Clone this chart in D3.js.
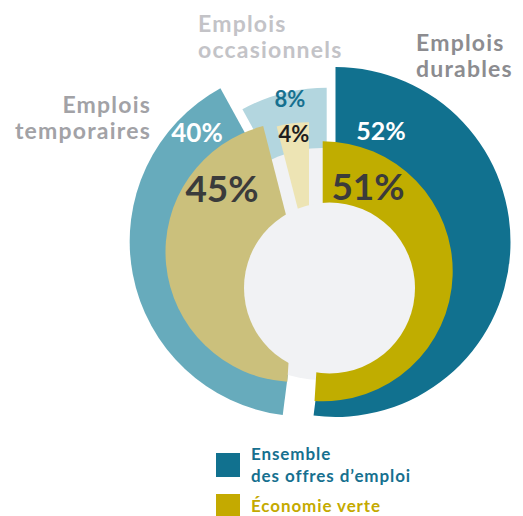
<!DOCTYPE html>
<html><head><meta charset="utf-8">
<script src="https://cdn.jsdelivr.net/npm/d3@7"></script>
<style>html,body{margin:0;padding:0;background:#fff;}svg{display:block;font-family:Lato,"Open Sans",sans-serif;}</style>
</head><body>
<svg id="c" width="523" height="516"></svg>
<script>
// ---- data ----
const categories = ["Emplois durables", "Emplois temporaires", "Emplois occasionnels"];
const ensembleValues = [52, 40, 8];     // Ensemble des offres d'emploi (outer ring)
const verteValues = [51, 45, 4];        // Économie verte (inner ring)
const seriesNames = ["Ensemble\ndes offres d\u2019emploi", "\u00c9conomie verte"];

// ---- layout / style (not data) ----
const base = [320, 256];
const outerR = 175, innerR = 130;
const outerShift = [[15.5, -14], [-15.3, -14.5], [6.7, 6.7]];
const innerShift = [[2.7, 15.3], [-24.5, -4], [-11, -3.7]];
const outerColors = ["#11718f", "#67abbc", "#b3d6df"];
const innerColors = ["#c0ad00", "#cbc07c", "#ede4b4"];
const grayDisk = {dx: 2, dy: 8, r: 116};
const hole = {dx: 9.5, dy: 32, r: 85.5};
const outerLabelPos = [[381, 140, 25, "#ffffff"], [197, 142, 26, "#ffffff"], [290, 107, 22, "#16708f"]];
const innerLabelPos = [[368, 200, 37, "#3b3b3b"], [222, 202, 37, "#3b3b3b"], [294, 142, 22, "#1e1e1e"]];
const catLabelPos = [[416, 51, "start", "#8c8c90"], [151, 113, "end", "#a2a2a6"], [198, 32, "start", "#c3c3c7"]];

const svg = d3.select("#c");
const pie = d3.pie().sort(null).value(d => d);
const arcOuter = d3.arc().innerRadius(0).outerRadius(outerR);
const arcInner = d3.arc().innerRadius(0).outerRadius(innerR);

const outerArcs = pie(ensembleValues);
const innerArcs = pie(verteValues);

// outer wedges
svg.append("g").selectAll("path").data(outerArcs).join("path")
  .attr("transform", (d, i) => `translate(${base[0] + outerShift[i][0]},${base[1] + outerShift[i][1]})`)
  .attr("d", arcOuter).attr("fill", (d, i) => outerColors[i]);

// gray background disk
svg.append("circle").attr("cx", base[0] + grayDisk.dx).attr("cy", base[1] + grayDisk.dy)
  .attr("r", grayDisk.r).attr("fill", "#f1f2f4");

// inner wedges
svg.append("g").selectAll("path").data(innerArcs).join("path")
  .attr("transform", (d, i) => `translate(${base[0] + innerShift[i][0]},${base[1] + innerShift[i][1]})`)
  .attr("d", arcInner).attr("fill", (d, i) => innerColors[i]);

// centre hole
svg.append("circle").attr("cx", base[0] + hole.dx).attr("cy", base[1] + hole.dy)
  .attr("r", hole.r).attr("fill", "#f1f2f4");

// value labels
svg.append("g").selectAll("text").data(ensembleValues).join("text")
  .attr("x", (d, i) => outerLabelPos[i][0]).attr("y", (d, i) => outerLabelPos[i][1])
  .attr("text-anchor", "middle").attr("font-weight", 700)
  .attr("font-size", (d, i) => outerLabelPos[i][2]).attr("fill", (d, i) => outerLabelPos[i][3])
  .text(d => d + "%");
svg.append("g").selectAll("text").data(verteValues).join("text")
  .attr("x", (d, i) => innerLabelPos[i][0]).attr("y", (d, i) => innerLabelPos[i][1])
  .attr("text-anchor", "middle").attr("font-weight", 700)
  .attr("font-size", (d, i) => innerLabelPos[i][2]).attr("fill", (d, i) => innerLabelPos[i][3])
  .text(d => d + "%");

// category labels
categories.forEach((c, i) => {
  const words = c.split(" ");
  const t = svg.append("text").attr("x", catLabelPos[i][0]).attr("y", catLabelPos[i][1])
    .attr("text-anchor", catLabelPos[i][2]).attr("fill", catLabelPos[i][3])
    .attr("font-weight", 700).attr("font-size", 23).attr("letter-spacing", 1.2);
  words.forEach((w, j) => t.append("tspan").attr("x", catLabelPos[i][0]).attr("dy", j ? 26 : 0).text(w));
});

// legend
const legendColors = ["#11718f", "#c4aa00"];
const legendText = ["#16708f", "#c4aa00"];
const legendY = [453, 494];
seriesNames.forEach((s, i) => {
  svg.append("rect").attr("x", 216).attr("y", legendY[i]).attr("width", 24).attr("height", 24)
    .attr("fill", legendColors[i]);
  const t = svg.append("text").attr("x", 251).attr("y", i ? 512 : 460)
    .attr("fill", legendText[i]).attr("font-weight", 700).attr("font-size", 17).attr("letter-spacing", 0.9);
  s.split("\n").forEach((line, j) => t.append("tspan").attr("x", 251).attr("dy", j ? 21.5 : 0).text(line));
});
</script>
</body></html>
